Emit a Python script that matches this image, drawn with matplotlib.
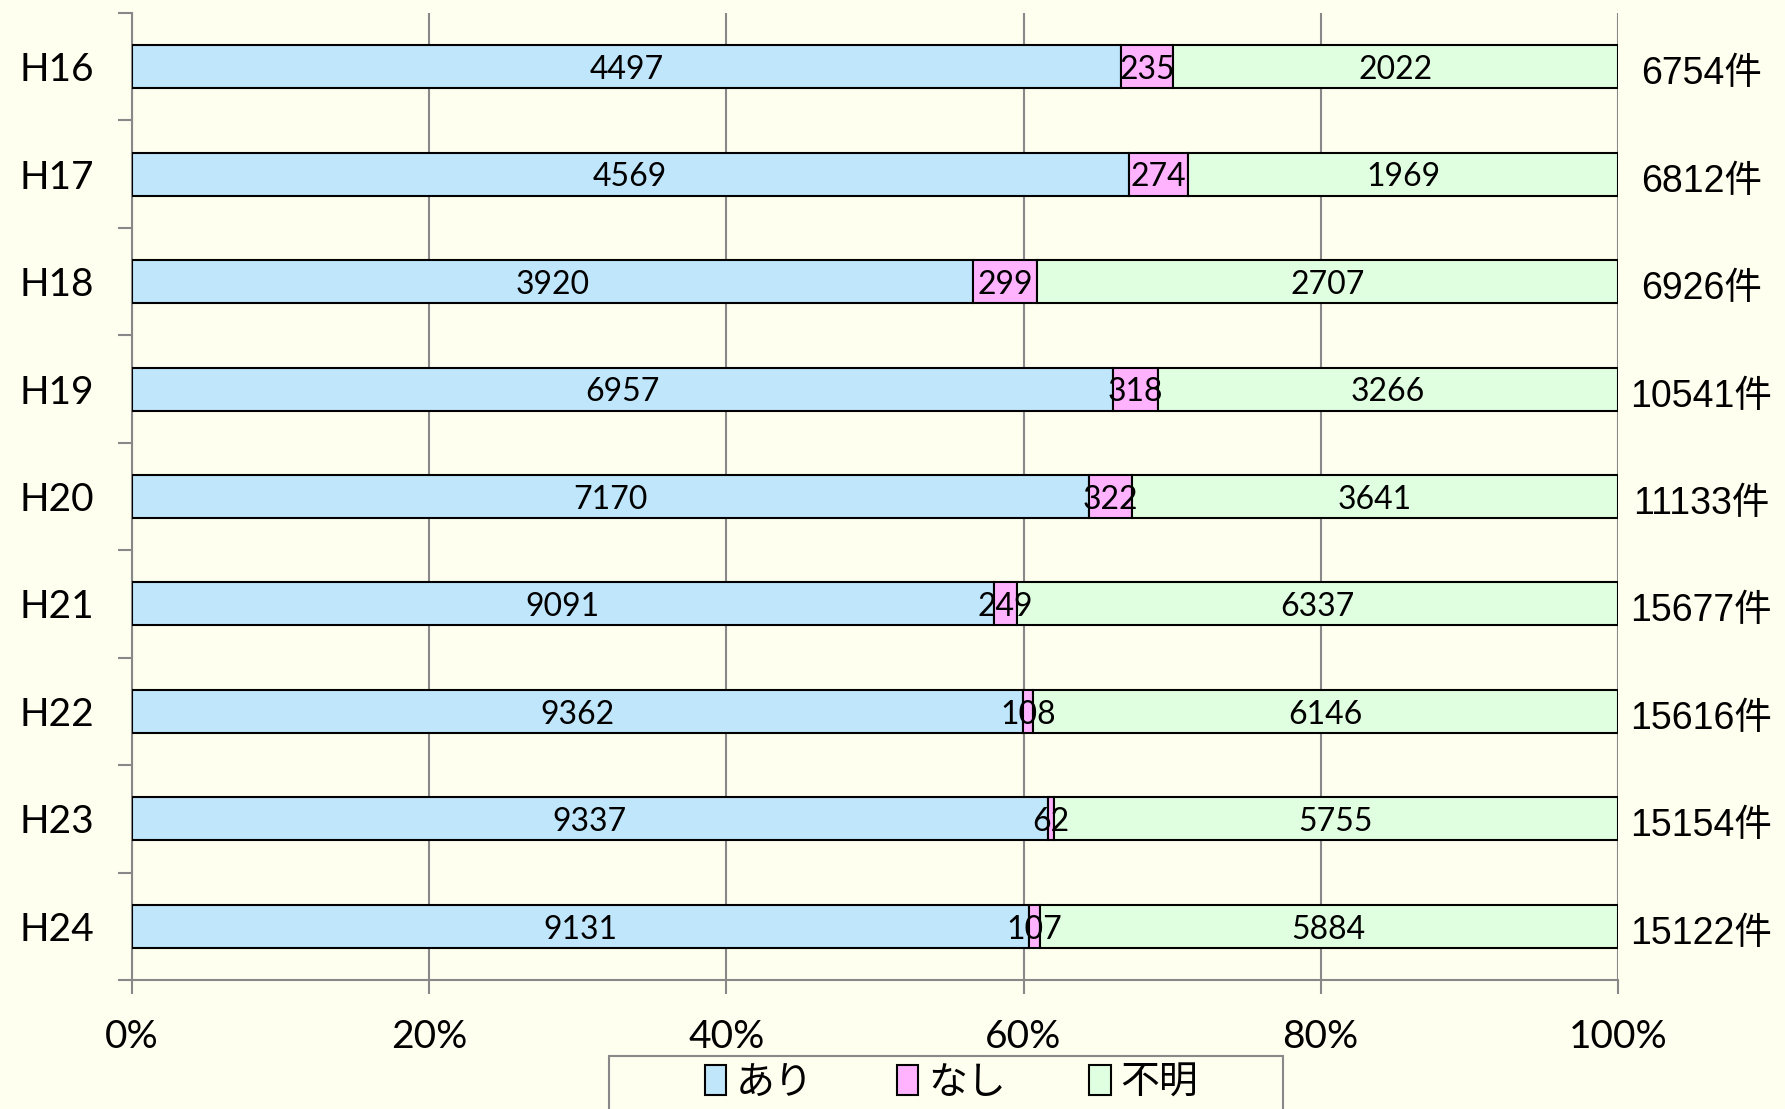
import matplotlib
matplotlib.use("Agg")
import matplotlib.pyplot as plt
from matplotlib.patches import Rectangle
import numpy as np

plt.rcParams['font.family'] = ['Lato', 'Noto Sans CJK JP', 'DejaVu Sans']

years = ['H16', 'H17', 'H18', 'H19', 'H20', 'H21', 'H22', 'H23', 'H24']
ari = [4497, 4569, 3920, 6957, 7170, 9091, 9362, 9337, 9131]
nashi = [235, 274, 299, 318, 322, 249, 108, 62, 107]
fumei = [2022, 1969, 2707, 3266, 3641, 6337, 6146, 5755, 5884]
totals = ['6754件', '6812件', '6926件', '10541件', '11133件',
          '15677件', '15616件', '15154件', '15122件']
series_names = ['あり', 'なし', '不明']
colors = ['#C0E6FC', '#FFB3FF', '#E0FFE0']
bg = '#FFFFF0'

fig = plt.figure(figsize=(17.85, 11.09), dpi=100, facecolor=bg)
ax = fig.add_axes([0.0739, 0.1163, 0.8325, 0.872])
ax.set_facecolor(bg)

data = np.array([ari, nashi, fumei], dtype=float)
pct = data / data.sum(axis=0) * 100
y = np.arange(len(years))

left = np.zeros(len(years))
handles = []
for i in range(3):
    b = ax.barh(y, pct[i], left=left, height=0.4, color=colors[i],
                edgecolor='black', linewidth=1.5, label=series_names[i], zorder=3)
    handles.append(b)
    for j in range(len(years)):
        ax.text(left[j] + pct[i][j] / 2, y[j] + 0.03, str(int(data[i][j])),
                ha='center', va='center', fontsize=23, zorder=4)
    left += pct[i]

for j in range(len(years)):
    ax.text(105.6, y[j] + 0.07, totals[j], ha='center', va='center',
            fontsize=27, family=['Liberation Sans', 'Noto Sans CJK JP'],
            clip_on=False)

ax.set_xlim(0, 100)
ax.set_ylim(len(years) - 0.5, -0.5)
ax.set_xticks(np.arange(0, 101, 20))
ax.set_xticklabels([f'{v}%' for v in range(0, 101, 20)], fontsize=28)
ax.set_yticks(np.arange(-0.5, len(years), 1))
ax.set_yticklabels([])
ax.set_yticks(y, minor=True)
ax.set_yticklabels(years, minor=True, fontsize=28)
ax.tick_params(axis='y', which='minor', length=0, pad=27)
ax.tick_params(axis='y', which='major', length=10, width=1.5, color='#888888')
ax.tick_params(axis='x', length=10, width=1.5, color='#888888', pad=18)

ax.grid(axis='x', color='#888888', linewidth=1.5, zorder=0)
for s in ['top', 'right']:
    ax.spines[s].set_visible(False)
for s in ['left', 'bottom']:
    ax.spines[s].set_color('#888888')
    ax.spines[s].set_linewidth(1.5)

# legend frame is wider than its entries, so draw it separately
fig.patches.append(Rectangle((609 / 1785, -0.05), 674 / 1785, 0.05 + 1 - 1056 / 1109,
                             transform=fig.transFigure, facecolor=bg,
                             edgecolor='#888888', linewidth=1.5))
fig.legend(handles=handles, loc='upper center', bbox_to_anchor=(0.533, 0.047),
           ncol=3, fontsize=28, frameon=False, handlelength=0.55,
           handleheight=0.8, handletextpad=0.25, columnspacing=2.15,
           borderpad=0.2, borderaxespad=0)

fig.savefig('out.png', dpi=100, facecolor=bg)
